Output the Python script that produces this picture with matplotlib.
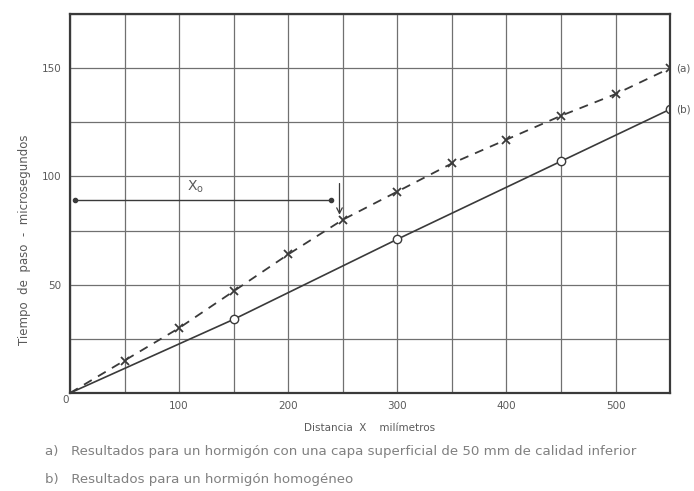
import matplotlib
matplotlib.use("Agg")
from matplotlib import pyplot as plt

# datos
dist_a = [0, 50, 100, 150, 200, 250, 300, 350, 400, 450, 500, 550]
tiempo_a = [0, 15, 30, 47, 64, 80, 93, 106, 117, 128, 138, 150]
dist_b = [0, 150, 300, 450, 550]
tiempo_b = [0, 34, 71, 107, 131]
x_ticks = [100, 200, 300, 400, 500]
y_ticks = [50, 100, 150]
xo_start, xo_end, xo_level = 5, 239, 89

ink = '#3a3a3a'
grid_c = '#707070'
txt_c = '#5a5a5a'

plt.rcParams['font.family'] = ['DejaVu Sans']
fig = plt.figure(figsize=(6.94, 4.91), dpi=100)
ax = fig.add_axes([0.1009, 0.1996, 0.8646, 0.7719])

ax.set_xlim(0, 550)
ax.set_ylim(0, 175)
ax.set_xticks(range(0, 551, 50))
ax.set_yticks(range(0, 176, 25))
ax.grid(True, color=grid_c, linewidth=0.9)
ax.tick_params(length=0, labelsize=7.5, colors=txt_c, pad=6)
ax.set_xticklabels([str(v) if v in x_ticks else '' for v in range(0, 551, 50)])
ax.set_yticklabels([str(v) if v in y_ticks else '' for v in range(0, 176, 25)])
for s in ax.spines.values():
    s.set_color(ink)
    s.set_linewidth(1.6)

ax.plot(dist_a, tiempo_a, color=ink, linestyle=(0, (5, 4)), linewidth=1.3,
        marker='x', markersize=6, markeredgewidth=1.3, markevery=list(range(1, len(dist_a))))
ax.plot(dist_b, tiempo_b, color=ink, linewidth=1.2,
        marker='o', markersize=6, markerfacecolor='white', markeredgewidth=1.0,
        markevery=list(range(1, len(dist_b))))

ax.text(556, tiempo_a[-1], '(a)', fontsize=7.5, color=txt_c, va='center', clip_on=False)
ax.text(556, tiempo_b[-1], '(b)', fontsize=7.5, color=txt_c, va='center', clip_on=False)

# cota Xo
ax.plot([xo_start, xo_end], [xo_level, xo_level], color=ink, linewidth=1.0,
        marker='o', markersize=3)
ax.annotate('', xy=(247, 81), xytext=(247, 98),
            arrowprops=dict(arrowstyle='->', color=ink, lw=0.9))
ax.text(115, xo_level + 2.5, r'X$_\mathrm{o}$', fontsize=10, color=txt_c, ha='center', va='bottom')

fig.text(66 / 694, 1 - 400 / 491, '0', fontsize=7.5, color=txt_c, ha='center', va='center')
fig.text(25 / 694, 1 - 240 / 491, 'Tiempo  de  paso  -  microsegundos', fontsize=8.5,
         color=txt_c, rotation=90, ha='center', va='center')
fig.text(370 / 694, 1 - 428 / 491, 'Distancia  X    milímetros', fontsize=7.5,
         color=txt_c, ha='center', va='center')
fig.text(45 / 694, 1 - 452 / 491,
         'a)   Resultados para un hormigón con una capa superficial de 50 mm de calidad inferior',
         fontsize=9.6, color='#808080', ha='left', va='center')
fig.text(45 / 694, 1 - 480 / 491, 'b)   Resultados para un hormigón homogéneo',
         fontsize=9.6, color='#808080', ha='left', va='center')

fig.savefig('out.png', dpi=100)
